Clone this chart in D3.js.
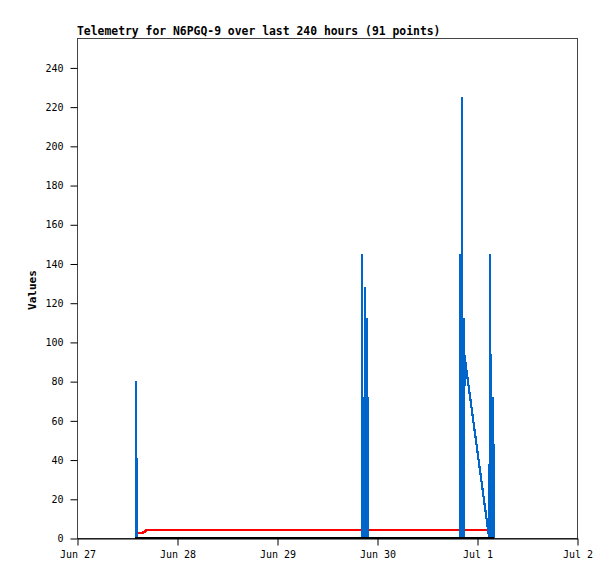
<!DOCTYPE html>
<html>
<head>
<meta charset="utf-8">
<script src="https://cdn.jsdelivr.net/npm/d3@7"></script>
<style>
  html, body { margin: 0; padding: 0; background: #fff; }
  svg { display: block; }
</style>
</head>
<body>
<svg id="chart" width="615" height="579"></svg>
<script>
// ---- data ----
const titleText = "Telemetry for N6PGQ-9 over last 240 hours (91 points)";
const yLabel = "Values";
const xDomain = ["2023-06-27T00:00", "2023-07-02T00:00"];
const yTicks = [0, 20, 40, 60, 80, 100, 120, 140, 160, 180, 200, 220, 240];
const yMax = 255;

const blueTimes = [
  "2023-06-27T14:07", "2023-06-27T14:10", "2023-06-27T14:12", "2023-06-27T14:24", "2023-06-27T14:26",
  "2023-06-29T20:22", "2023-06-29T20:26", "2023-06-29T20:31", "2023-06-29T20:36",
  "2023-06-29T20:42", "2023-06-29T20:48", "2023-06-29T20:54", "2023-06-29T21:00",
  "2023-06-29T21:07", "2023-06-29T21:12", "2023-06-29T21:16", "2023-06-29T21:22",
  "2023-06-29T21:28", "2023-06-29T21:34", "2023-06-29T21:40", "2023-06-29T21:46",
  "2023-06-29T21:50",
  "2023-06-30T19:50", "2023-06-30T19:56", "2023-06-30T20:02", "2023-06-30T20:08",
  "2023-06-30T20:14", "2023-06-30T20:22", "2023-06-30T20:30", "2023-06-30T20:36",
  "2023-06-30T20:41", "2023-06-30T20:47", "2023-06-30T20:53", "2023-06-30T21:00",
  "2023-07-01T02:47", "2023-07-01T02:59", "2023-07-01T03:10", "2023-07-01T03:19",
  "2023-07-01T03:27", "2023-07-01T03:35", "2023-07-01T03:42", "2023-07-01T03:48",
  "2023-07-01T03:55", "2023-07-01T03:59", "2023-07-01T04:05", "2023-07-01T04:08"
];
const blueValues = [
  0, 80, 41, 40, 0,
  0, 145, 0, 72,
  0, 72, 0, 72,
  0, 128, 0, 72,
  0, 112, 0, 72,
  0,
  0, 145, 0, 145,
  0, 225, 0, 112,
  0, 112, 0, 93,
  2, 0, 145, 0,
  72, 0, 72, 0,
  48, 25, 48, 0
];

const redTimes = [
  "2023-06-27T13:58", "2023-06-27T14:24", "2023-06-27T14:28", "2023-06-27T15:43",
  "2023-06-27T15:50", "2023-06-27T15:58", "2023-06-27T16:20", "2023-06-27T16:34",
  "2023-06-29T20:24", "2023-06-30T19:52", "2023-07-01T04:10"
];
const redValues = [3.8, 3.8, 2.5, 2.5, 3.0, 3.0, 3.0, 4, 4, 4, 4];

const blackTimes = ["2023-06-27T13:58", "2023-07-01T04:10"];
const blackValues = [0, 0];

// ---- layout ----
const W = 615, H = 579;
const m = { left: 77, top: 38, right: 38, bottom: 41 };
const pw = W - m.left - m.right;   // 500
const ph = H - m.top - m.bottom;   // 500

const parse = d3.utcParse("%Y-%m-%dT%H:%M");
const x = d3.scaleUtc().domain(xDomain.map(parse)).range([m.left, m.left + pw]);
const y = d3.scaleLinear().domain([0, yMax]).range([m.top + ph, m.top]);

const svg = d3.select("#chart");
const FONT = "'DejaVu Sans Mono', 'Liberation Mono', monospace";

// frame
svg.append("rect")
  .attr("x", m.left + 0.5).attr("y", m.top + 0.5)
  .attr("width", pw).attr("height", ph)
  .attr("fill", "none").attr("stroke", "#444").attr("stroke-width", 1);

// x axis
const xAxis = d3.axisBottom(x)
  .ticks(d3.utcDay.every(1))
  .tickFormat(d3.utcFormat("%b %-d"))
  .tickSize(7).tickSizeOuter(0).tickPadding(5);
const gx = svg.append("g")
  .attr("transform", `translate(0.5,${m.top + ph + 0.5})`)
  .call(xAxis);
gx.select(".domain").attr("stroke", "#000");
gx.selectAll(".tick line").attr("stroke", "#000");
gx.selectAll("text").attr("font-family", FONT).attr("font-size", 10).attr("fill", "#000");

// y axis
const yAxis = d3.axisLeft(y).tickValues(yTicks).tickSize(7).tickSizeOuter(0).tickPadding(7);
const gy = svg.append("g")
  .attr("transform", `translate(${m.left + 0.5},0.5)`)
  .call(yAxis);
gy.select(".domain").remove();
gy.selectAll(".tick line").attr("stroke", "#000");
gy.selectAll("text").attr("font-family", FONT).attr("font-size", 10).attr("fill", "#000");

// series
function series(times, values) {
  return times.map((t, i) => ({ t: parse(t), v: values[i] }));
}
const line = d3.line().x(d => x(d.t)).y(d => y(d.v));
const plot = svg.append("g");

plot.append("path").datum(series(redTimes, redValues))
  .attr("d", line).attr("fill", "none")
  .attr("stroke", "#ff0000").attr("stroke-width", 2.5)
  .attr("shape-rendering", "crispEdges");

plot.append("path").datum(series(blueTimes, blueValues))
  .attr("d", line).attr("fill", "none")
  .attr("stroke", "#0066cc").attr("stroke-width", 2.2).attr("stroke-linejoin", "bevel")
  .attr("shape-rendering", "crispEdges");

plot.append("path").datum(series(blackTimes, blackValues))
  .attr("d", line).attr("fill", "none")
  .attr("stroke", "#000").attr("stroke-width", 2)
  .attr("shape-rendering", "crispEdges");

// title
svg.append("text")
  .attr("x", m.left).attr("y", 35)
  .attr("font-family", FONT).attr("font-weight", "bold").attr("font-size", 11.4)
  .attr("fill", "#000")
  .text(titleText);

// y label
svg.append("text")
  .attr("transform", `translate(36,${m.top + ph / 2 + 2}) rotate(-90)`)
  .attr("text-anchor", "middle")
  .attr("font-family", FONT).attr("font-weight", "bold").attr("font-size", 11)
  .attr("fill", "#000")
  .text(yLabel);
</script>
</body>
</html>
